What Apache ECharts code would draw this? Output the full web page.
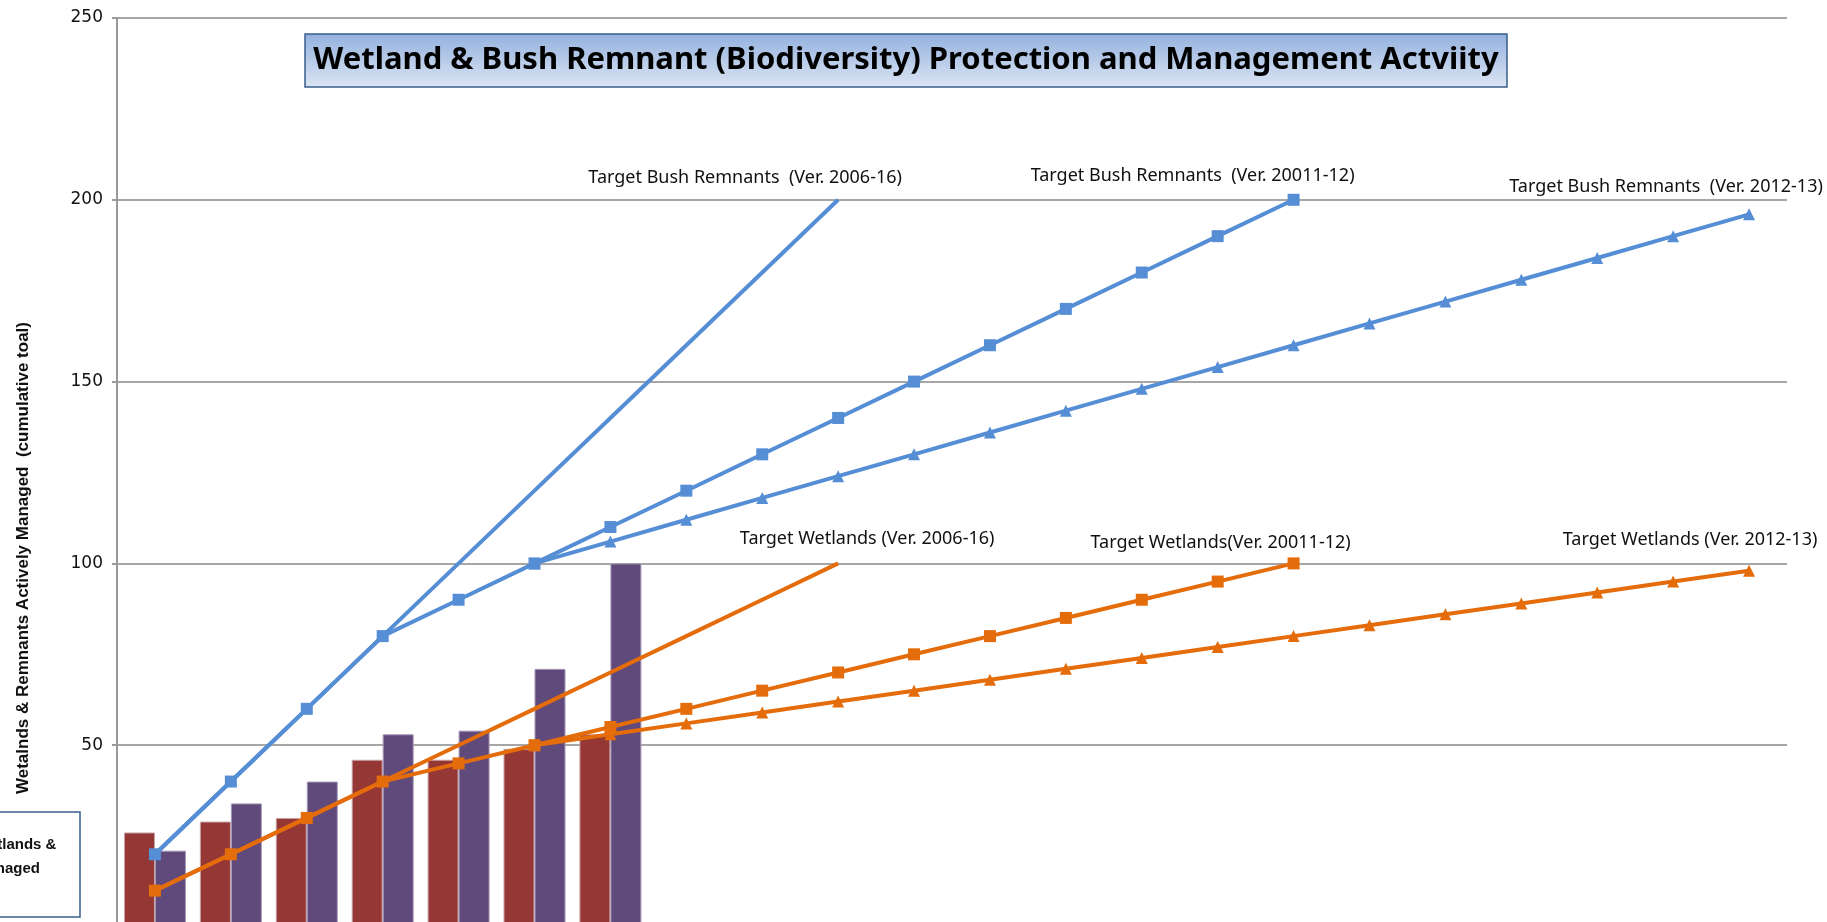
<!DOCTYPE html>
<html>
<head>
<meta charset="utf-8">
<script src="https://cdn.jsdelivr.net/npm/echarts@6/dist/echarts.min.js"></script>
<style>
  html, body { margin: 0; padding: 0; overflow: hidden; background: #fff; }
  #chart { width: 1827px; height: 980px; }
</style>
</head>
<body>
<div id="chart"></div>
<script>
// categories (x axis labels sit below the visible area)
var years = ['2006', '2007', '2008', '2009', '2010', '2011', '2012', '2013', '2014', '2015', '2016',
  '2017', '2018', '2019', '2020', '2021', '2022', '2023', '2024', '2025', '2026', '2027'];

// actual cumulative totals (bars)
var actualWetlands = [26, 29, 30, 46, 46, 49, 53];
var actualRemnants = [21, 34, 40, 53, 54, 71, 100];

// target lines
var bushTarget0616 = [20, 40, 60, 80, 100, 120, 140, 160, 180, 200];
var bushTarget1112 = [20, 40, 60, 80, 90, 100, 110, 120, 130, 140, 150, 160, 170, 180, 190, 200];
var bushTarget1213 = [null, null, null, null, null, 100, 106, 112, 118, 124, 130, 136, 142, 148, 154, 160, 166, 172, 178, 184, 190, 196];
var wetTarget0616 = [10, 20, 30, 40, 50, 60, 70, 80, 90, 100];
var wetTarget1112 = [10, 20, 30, 40, 45, 50, 55, 60, 65, 70, 75, 80, 85, 90, 95, 100];
var wetTarget1213 = [null, null, null, null, null, 50, 53, 56, 59, 62, 65, 68, 71, 74, 77, 80, 83, 86, 89, 92, 95, 98];

var yTicks = [0, 50, 100, 150, 200, 250];

var blue = '#558ED5';
var orange = '#E46C0A';
var labelFont = '"Noto Sans", sans-serif';

// put a text label on the last point of a series
function withEndLabel(arr, text, offset) {
  var out = arr.slice();
  var last = out.length - 1;
  out[last] = {
    value: arr[last],
    label: {
      show: true,
      position: 'inside',
      offset: offset,
      formatter: text,
      color: '#111',
      fontSize: 18,
      fontFamily: labelFont
    }
  };
  return out;
}

function lineSeries(name, arr, color, symbol, size, text, offset) {
  return {
    name: name,
    type: 'line',
    data: withEndLabel(arr, text, offset),
    symbol: symbol,
    symbolSize: size,
    showAllSymbol: true,
    connectNulls: false,
    lineStyle: { color: color, width: 4 },
    itemStyle: { color: color },
    z: 3
  };
}

var myChart = echarts.init(document.getElementById('chart'));

var option = {
  backgroundColor: '#fff',
  animation: false,
  title: {
    text: 'Wetland & Bush Remnant (Biodiversity) Protection and Management Actviity',
    left: 897,
    top: 34,
    textAlign: 'center',
    padding: [8, 9],
    borderColor: '#385D8A',
    borderWidth: 1.5,
    backgroundColor: new echarts.graphic.LinearGradient(0, 0, 0, 1, [
      { offset: 0, color: '#93B1DE' },
      { offset: 1, color: '#DCE5F3' }
    ]),
    textStyle: {
      fontFamily: labelFont,
      fontWeight: 'bold',
      fontSize: 31,
      lineHeight: 37,
      color: '#000'
    }
  },
  grid: {
    left: 117,
    right: 40,
    top: 18,
    bottom: 53
  },
  xAxis: {
    type: 'category',
    data: years,
    boundaryGap: true,
    axisLine: { lineStyle: { color: '#888' } },
    axisTick: { show: false },
    axisLabel: { show: false }
  },
  yAxis: {
    type: 'value',
    min: yTicks[0],
    max: yTicks[yTicks.length - 1],
    interval: 50,
    axisLine: { show: true, lineStyle: { color: '#999', width: 2 } },
    axisTick: { show: true, length: 5, lineStyle: { color: '#999', width: 2 } },
    axisLabel: {
      color: '#111',
      fontSize: 17,
      fontFamily: '"DejaVu Sans", sans-serif',
      margin: 14,
      showMinLabel: false
    },
    splitLine: { lineStyle: { color: '#a6a6a6', width: 2 } }
  },
  graphic: [
    {
      type: 'text',
      left: 15,
      top: 322,
      rotation: Math.PI / 2,
      style: {
        text: 'Wetalnds & Remnants Actively Managed  (cumulative toal)',
        font: 'bold 17px "Liberation Sans", sans-serif',
        fill: '#111'
      }
    },
    {
      type: 'rect',
      shape: { x: -40, y: 812, width: 120, height: 105 },
      style: { fill: '#fff', stroke: '#385D8A', lineWidth: 1.5 },
      z: 10
    },
    {
      type: 'text',
      x: -25,
      y: 833,
      z: 11,
      style: {
        text: 'Wetlands &\nManaged',
        font: 'bold 15px "Liberation Sans", sans-serif',
        lineHeight: 24,
        fill: '#111'
      }
    }
  ],
  series: [
    {
      name: 'Actual Wetlands',
      type: 'bar',
      data: actualWetlands,
      barWidth: 31,
      barGap: '0%',
      itemStyle: { color: '#953735', borderColor: '#C9A3A6', borderWidth: 1 },
      z: 2
    },
    {
      name: 'Actual Remnants',
      type: 'bar',
      data: actualRemnants,
      barWidth: 31,
      barGap: '0%',
      itemStyle: { color: '#604A7B', borderColor: '#A698B8', borderWidth: 1 },
      z: 2
    },
    lineSeries('Target Bush Remnants (Ver. 2006-16)', bushTarget0616, blue, 'rect', 0,
      'Target Bush Remnants  (Ver. 2006-16)', [-93, -22]),
    lineSeries('Target Bush Remnants (Ver. 20011-12)', bushTarget1112, blue, 'rect', 12,
      'Target Bush Remnants  (Ver. 20011-12)', [-101, -24]),
    lineSeries('Target Bush Remnants (Ver. 2012-13)', bushTarget1213, blue, 'triangle', 12,
      'Target Bush Remnants  (Ver. 2012-13)', [-83, -27]),
    lineSeries('Target Wetlands (Ver. 2006-16)', wetTarget0616, orange, 'rect', 0,
      'Target Wetlands (Ver. 2006-16)', [29, -25]),
    lineSeries('Target Wetlands (Ver. 20011-12)', wetTarget1112, orange, 'rect', 12,
      'Target Wetlands(Ver. 20011-12)', [-73, -21]),
    lineSeries('Target Wetlands (Ver. 2012-13)', wetTarget1213, orange, 'triangle', 12,
      'Target Wetlands (Ver. 2012-13)', [-59, -31])
  ]
};

myChart.setOption(option);
</script>
</body>
</html>
